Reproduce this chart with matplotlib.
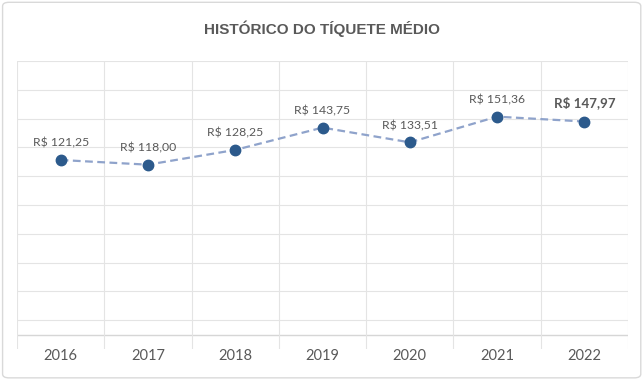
import numpy as np
import matplotlib.pyplot as plt
from matplotlib.patches import FancyBboxPatch

anos = ['2016', '2017', '2018', '2019', '2020', '2021', '2022']
ticket_medio = [121.25, 118.00, 128.25, 143.75, 133.51, 151.36, 147.97]
rotulos = ['R$ 121,25', 'R$ 118,00', 'R$ 128,25', 'R$ 143,75', 'R$ 133,51', 'R$ 151,36', 'R$ 147,97']
titulo = 'HISTÓRICO DO TÍQUETE MÉDIO'

cinza_texto = '#595959'
cor_linha = '#8FA3CB'
cor_marcador = '#2C5A8C'
cor_grade = '#E4E4E4'

fig = plt.figure(figsize=(6.44, 3.84), dpi=100)

# moldura externa
borda = FancyBboxPatch((0.004, 0.016), 0.991, 0.978, boxstyle='round,pad=0,rounding_size=0.01',
                       transform=fig.transFigure, facecolor='none', edgecolor='#D9D9D9', linewidth=1.0)
fig.patches.append(borda)

ax = fig.add_axes([17 / 644, 35 / 384, 611 / 644, 288 / 384])
ax.set_facecolor('none')

x = np.arange(len(anos))
ax.plot(x, ticket_medio, linestyle=(0, (3.5, 2)), color=cor_linha, linewidth=1.6, zorder=3)
ax.plot(x, ticket_medio, linestyle='none', marker='o', markersize=7.5, color=cor_marcador, zorder=4)

for i, (v, txt) in enumerate(zip(ticket_medio, rotulos)):
    ultimo = i == len(anos) - 1
    ax.annotate(txt, (i, v), xytext=(0, 9 if ultimo else 8), textcoords='offset points',
                ha='center', va='bottom', fontsize=9.6 if ultimo else 8.8, color=cinza_texto,
                family=['Lato', 'DejaVu Sans'], fontweight='bold' if ultimo else 'normal')

ax.set_xlim(-0.5, len(anos) - 0.5)
ax.set_ylim(-10, 190)

# grade
ax.set_yticks(np.arange(10, 191, 20))
ax.set_xticks(np.arange(-0.5, len(anos), 1.0))
ax.grid(True, color=cor_grade, linewidth=0.8, zorder=0)
ax.axhline(0, color='#D6D6D6', linewidth=1.0, zorder=1)
ax.tick_params(left=False, bottom=False, labelleft=False, labelbottom=False)
for s in ax.spines.values():
    s.set_visible(False)

for i, ano in enumerate(anos):
    ax.text(i, -10, ano, ha='center', va='top', fontsize=10.5, color=cinza_texto,
            family=['Lato', 'DejaVu Sans'], transform=ax.transData)

fig.text(0.5, 1 - 29 / 384, titulo, ha='center', va='center', fontsize=11, fontweight='bold',
         color=cinza_texto, family=['Liberation Sans', 'DejaVu Sans'])

fig.savefig('out.png', dpi=100, facecolor='white')
